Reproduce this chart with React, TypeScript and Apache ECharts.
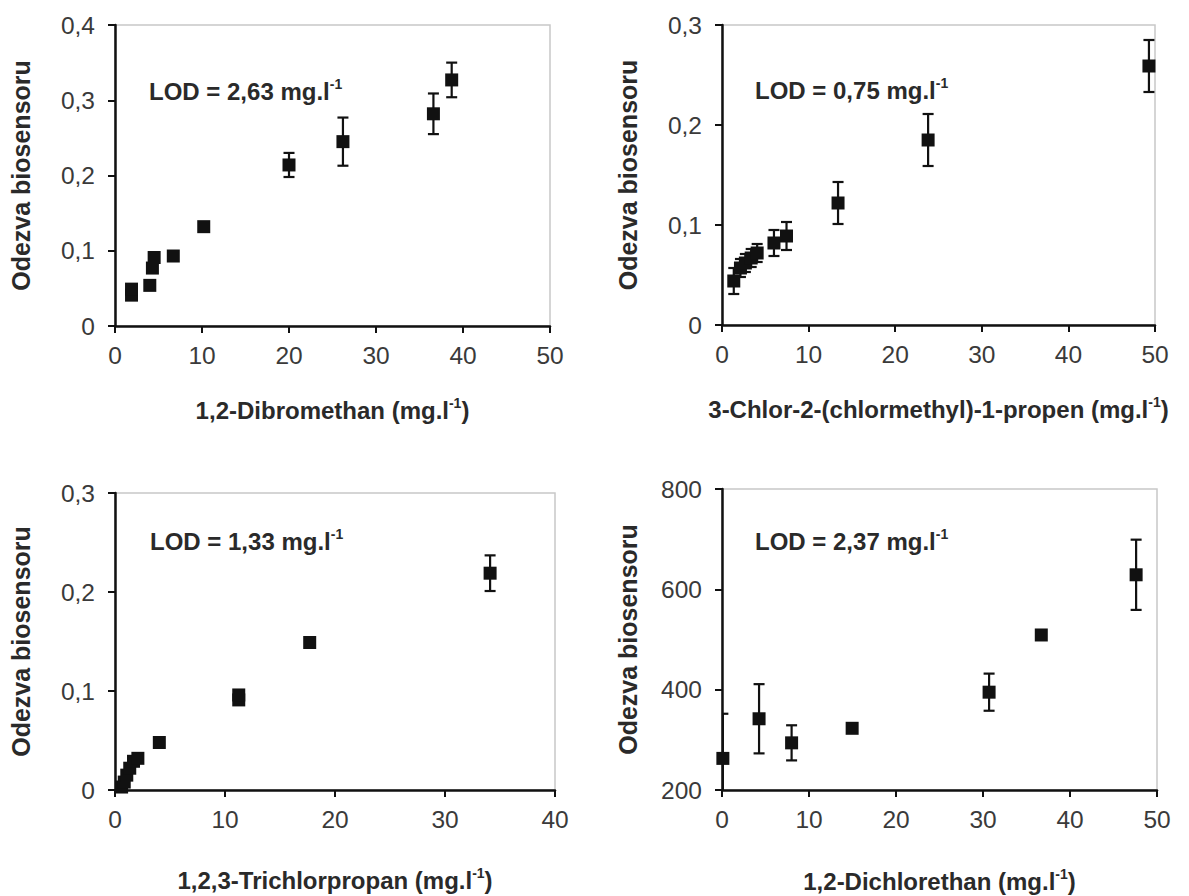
import React, { useEffect, useRef } from "react";
import * as echarts from "echarts";

// Panel 1: 1,2-Dibromethan
const x1 = [1.9, 1.9, 4.0, 4.3, 4.5, 6.7, 10.2, 20.0, 26.2, 36.6, 38.7];
const y1 = [0.041, 0.049, 0.054, 0.077, 0.091, 0.093, 0.132, 0.214, 0.245, 0.282, 0.327];
const e1 = [0.003, 0.003, 0.003, 0.004, 0.004, 0.004, 0.004, 0.016, 0.032, 0.027, 0.023];

// Panel 2: 3-Chlor-2-(chlormethyl)-1-propen
const x2 = [1.36, 2.13, 2.7, 3.37, 4.06, 6.0, 7.45, 13.4, 23.8, 49.3];
const y2 = [0.044, 0.057, 0.062, 0.067, 0.072, 0.082, 0.089, 0.122, 0.185, 0.259];
const e2 = [0.013, 0.009, 0.009, 0.009, 0.009, 0.013, 0.014, 0.021, 0.026, 0.026];

// Panel 3: 1,2,3-Trichlorpropan
const x3 = [0.6, 0.84, 1.07, 1.34, 1.68, 2.08, 4.03, 11.25, 11.25, 17.7, 34.1];
const y3 = [0.003, 0.008, 0.015, 0.022, 0.029, 0.032, 0.048, 0.091, 0.096, 0.149, 0.219];
const e3 = [0.002, 0.002, 0.002, 0.002, 0.002, 0.002, 0.003, 0.003, 0.003, 0.003, 0.018];

// Panel 4: 1,2-Dichlorethan
const x4 = [0.1, 4.26, 8.0, 14.96, 30.7, 36.7, 47.6];
const y4 = [263, 342, 294, 323, 395, 509, 629];
const e4 = [89, 69, 35, 4, 37, 4, 70];

const xTitles = [
  "1,2-Dibromethan",
  "3-Chlor-2-(chlormethyl)-1-propen",
  "1,2,3-Trichlorpropan",
  "1,2-Dichlorethan",
];
const lodTexts = ["LOD = 2,63 mg.l", "LOD = 0,75 mg.l", "LOD = 1,33 mg.l", "LOD = 2,37 mg.l"];
const yTitle = "Odezva biosensoru";
const xMax = [50, 50, 40, 50];
const yMin = [0, 0, 0, 200];
const yMax = [0.4, 0.3, 0.3, 800];
const yStep = [0.1, 0.1, 0.1, 200];

const FONT = "Liberation Sans, Arial, sans-serif";
const TEXT = "#2a2a2a";
const LABEL = "#3a3a3a";
const INK = "#111";

export default function App() {
  const ref = useRef<HTMLDivElement>(null);
  useEffect(() => {
    if (!ref.current) return;
    const chart = echarts.init(ref.current, undefined, { renderer: "svg" });
    const grids = [
      { left: 115, top: 25, width: 435, height: 301 },
      { left: 722, top: 25, width: 433, height: 300 },
      { left: 115, top: 493, width: 440, height: 297 },
      { left: 722, top: 489, width: 435, height: 301 },
    ];
    const xs = [x1, x2, x3, x4];
    const ys = [y1, y2, y3, y4];
    const es = [e1, e2, e3, e4];
    const nameGaps = [70, 70, 76, 77];
    const lodPos = [
      [149, 91],
      [755, 90],
      [150, 541],
      [755, 541],
    ];

    const fmtY = (i: number) => (v: number) =>
      i === 3 ? String(Math.round(v)) : v === 0 ? "0" : Number(v.toFixed(1)).toString().replace(".", ",");

    const axisCommon = {
      axisLine: { show: true, onZero: false, lineStyle: { color: INK, width: 2.5 } },
      axisTick: { show: true, inside: false, length: 7, lineStyle: { color: INK, width: 2 } },
      splitLine: { show: false },
    };

    const option: any = {
      animation: false,
      backgroundColor: "#fff",
      grid: grids.map((g) => ({
        ...g,
        show: true,
        borderColor: "#c8c8c8",
        borderWidth: 1.5,
        backgroundColor: "transparent",
      })),
      xAxis: grids.map((_, i) => ({
        type: "value",
        gridIndex: i,
        min: 0,
        max: xMax[i],
        interval: 10,
        ...axisCommon,
        axisLabel: { fontSize: 24.5, color: LABEL, fontFamily: FONT, margin: 17 },
        name: `{t|${xTitles[i]} (mg.l}{s|-1}{t|)}`,
        nameLocation: "middle",
        nameGap: nameGaps[i],
        nameTextStyle: {
          rich: {
            t: { fontSize: 24, fontWeight: "bold", color: TEXT, fontFamily: FONT, lineHeight: 28 },
            s: { fontSize: 14, fontWeight: "bold", color: TEXT, fontFamily: FONT, verticalAlign: "top", lineHeight: 28 },
          },
        },
      })),
      yAxis: grids.map((_, i) => ({
        type: "value",
        gridIndex: i,
        min: yMin[i],
        max: yMax[i],
        interval: yStep[i],
        ...axisCommon,
        axisLabel: { fontSize: 24.5, color: LABEL, fontFamily: FONT, margin: 20, formatter: fmtY(i) },
        name: yTitle,
        nameLocation: "middle",
        nameRotate: 90,
        nameGap: 82,
        nameTextStyle: { fontSize: 25, fontWeight: "bold", color: TEXT, fontFamily: FONT },
      })),
      graphic: lodPos.map((p, i) => ({
        type: "text",
        left: p[0],
        top: p[1] - 14,
        style: {
          text: `{t|${lodTexts[i]}}{s|-1}`,
          rich: {
            t: { fontSize: 24, fontWeight: "bold", fill: TEXT, fontFamily: FONT, lineHeight: 28 },
            s: { fontSize: 14, fontWeight: "bold", fill: TEXT, fontFamily: FONT, verticalAlign: "top", lineHeight: 28 },
          },
        },
      })),
      series: [] as any[],
    };

    for (let i = 0; i < 4; i++) {
      const data = xs[i].map((x, k) => [x, ys[i][k], es[i][k]]);
      option.series.push({
        type: "custom",
        xAxisIndex: i,
        yAxisIndex: i,
        clip: true,
        z: 2,
        encode: { x: 0, y: 1 },
        data,
        renderItem: (params: any, api: any) => {
          const x = api.value(0);
          const y = api.value(1);
          const e = api.value(2);
          const top = api.coord([x, y + e]);
          const bot = api.coord([x, y - e]);
          const hw = 5.5;
          const st = { stroke: INK, lineWidth: 2.2 };
          return {
            type: "group",
            children: [
              { type: "line", shape: { x1: top[0], y1: top[1], x2: bot[0], y2: bot[1] }, style: st },
              { type: "line", shape: { x1: top[0] - hw, y1: top[1], x2: top[0] + hw, y2: top[1] }, style: st },
              { type: "line", shape: { x1: bot[0] - hw, y1: bot[1], x2: bot[0] + hw, y2: bot[1] }, style: st },
            ],
          };
        },
      });
      option.series.push({
        type: "scatter",
        xAxisIndex: i,
        yAxisIndex: i,
        z: 3,
        symbol: "rect",
        symbolSize: 13,
        itemStyle: { color: INK, opacity: 1 },
        data: xs[i].map((x, k) => [x, ys[i][k]]),
      });
    }

    chart.setOption(option);
    return () => chart.dispose();
  }, []);

  return (
    <div
      ref={ref}
      style={{ position: "fixed", left: 0, top: 0, width: 1189, height: 896, background: "#fff" }}
    />
  );
}
